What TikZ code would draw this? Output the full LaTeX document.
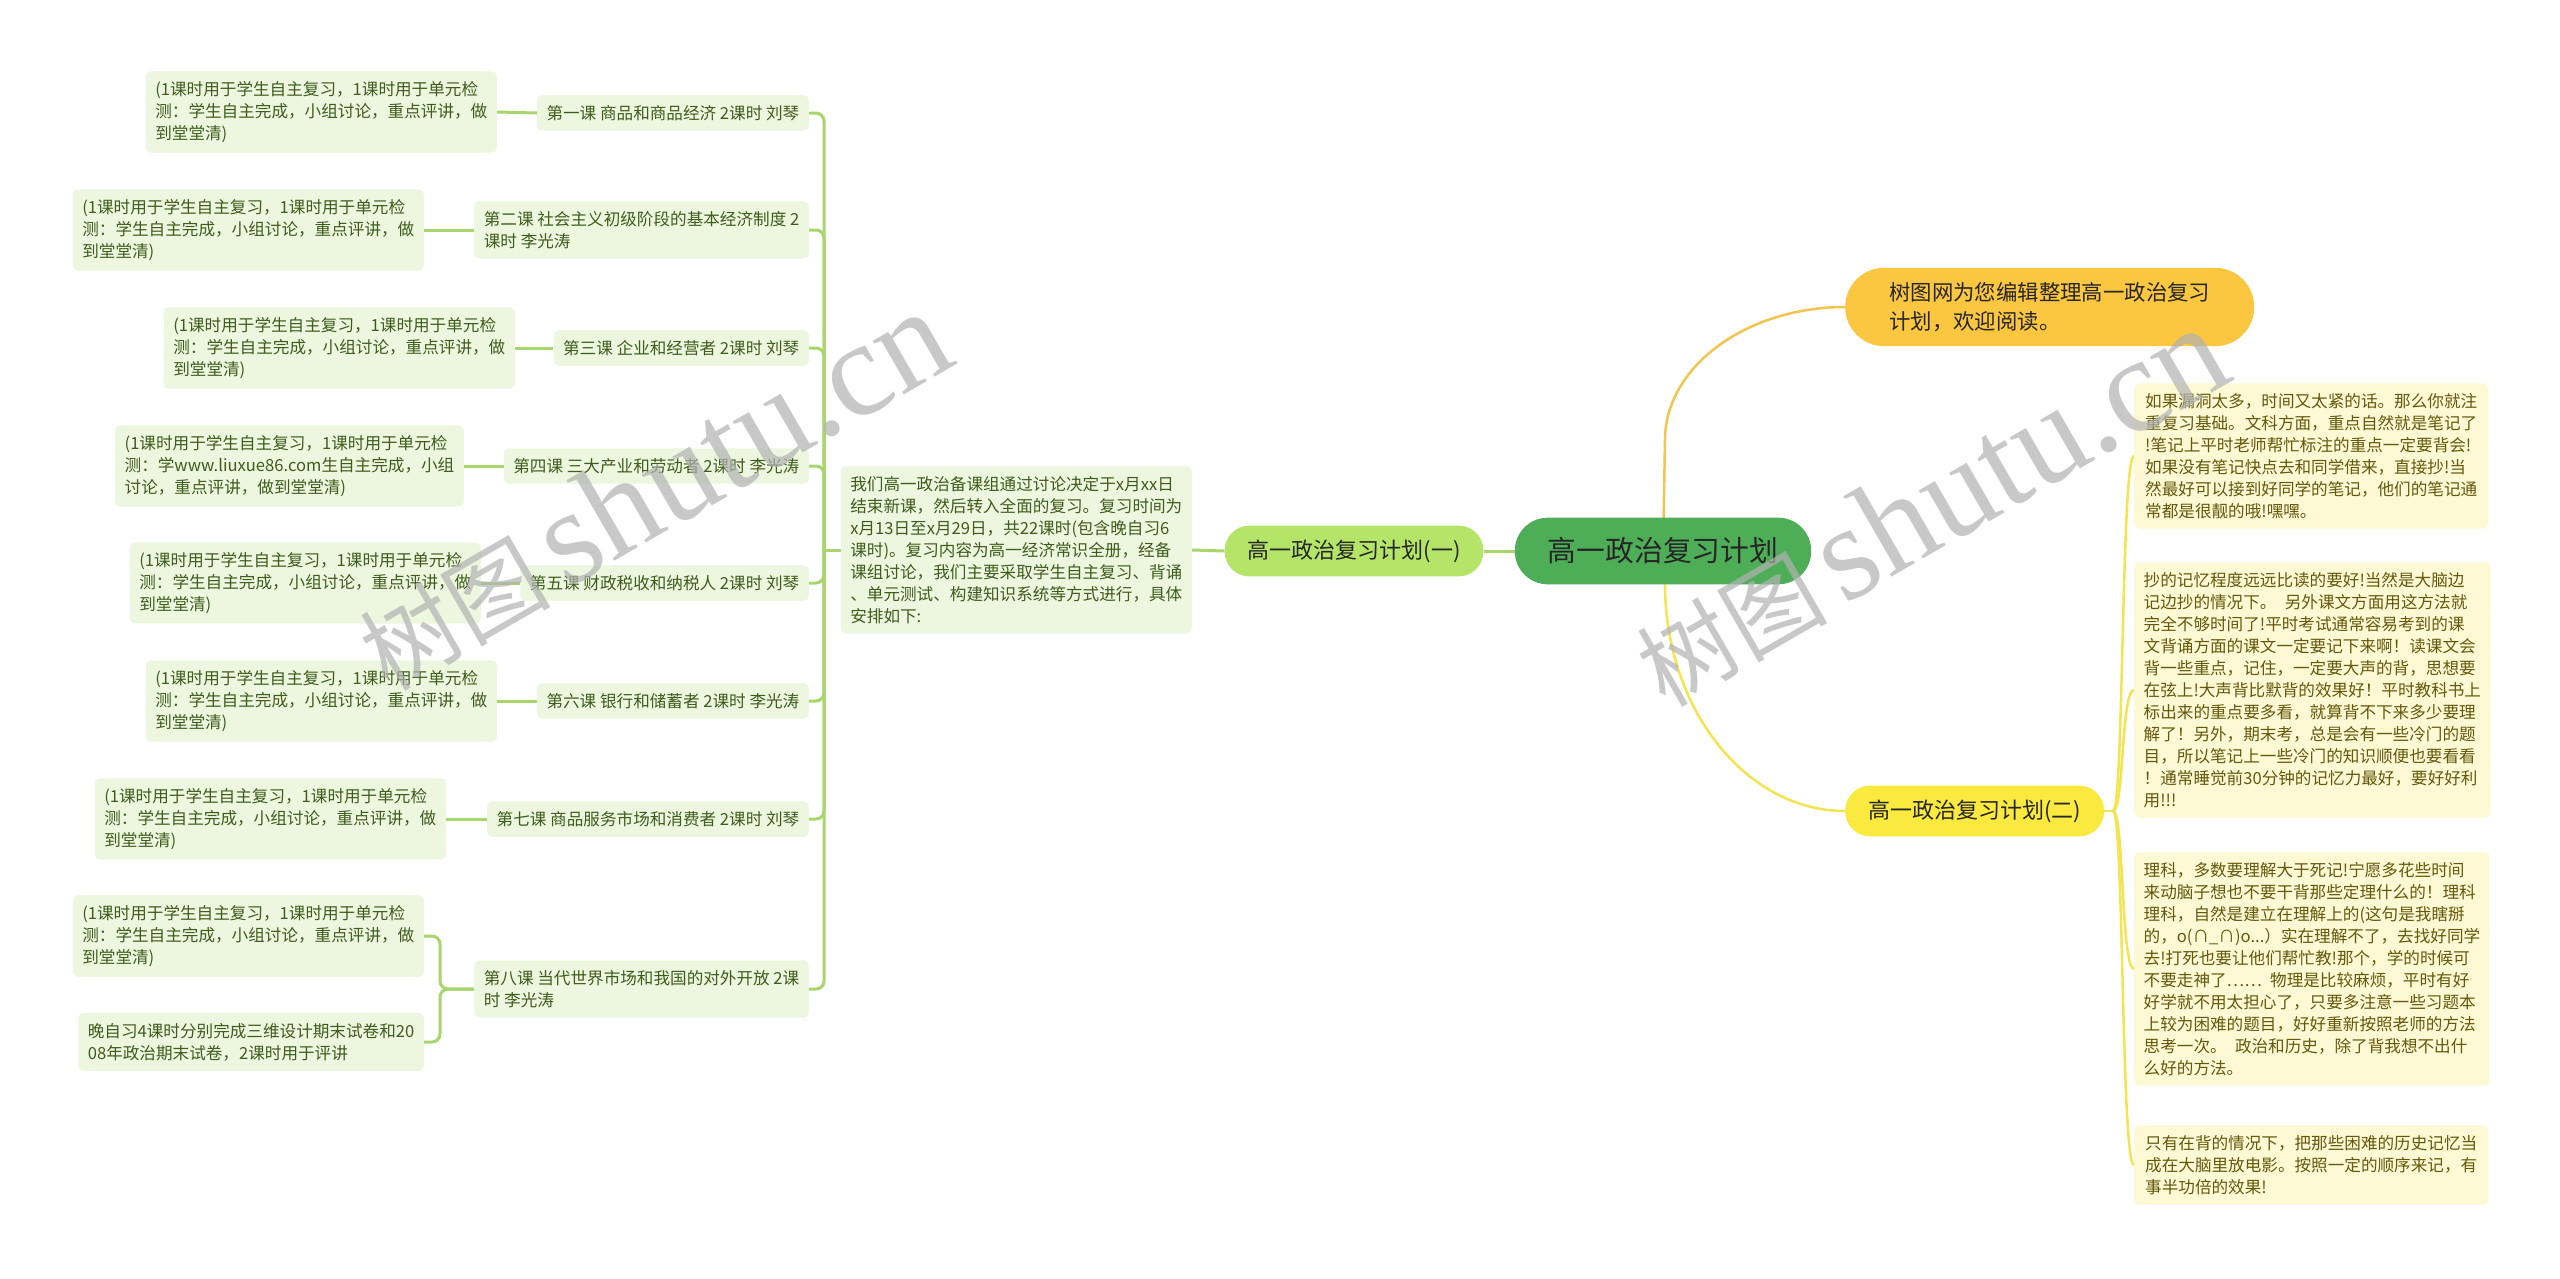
\documentclass[tikz,border=0pt]{standalone}
\usepackage{fontspec}
\newfontfamily\cjk{Noto Sans CJK SC}
\newfontfamily\wmlatin{Liberation Serif}
\usetikzlibrary{backgrounds}
\definecolor{cfill}{RGB}{78,174,88}
\definecolor{b1fill}{RGB}{180,228,104}
\definecolor{lgfill}{RGB}{237,247,224}
\definecolor{lgtext}{RGB}{62,92,28}
\definecolor{lgline}{RGB}{166,214,108}
\definecolor{topfill}{RGB}{251,198,64}
\definecolor{topline}{RGB}{243,196,80}
\definecolor{b2fill}{RGB}{250,233,62}
\definecolor{b2line}{RGB}{244,228,80}
\definecolor{yfill}{RGB}{253,249,212}
\definecolor{ytext}{RGB}{100,88,12}
\definecolor{darktext}{RGB}{38,38,38}
\tikzset{
  body/.style={font=\cjk\fontsize{16.6}{22}\selectfont, align=left, inner xsep=9.5pt, inner ysep=10pt},
  greenbox/.style={body, fill=lgfill, text=lgtext, rounded corners=5pt},
  yellowbox/.style={body, fill=yfill, text=ytext, rounded corners=6pt, minimum width=354pt},
  gline/.style={draw=lgline, line width=3pt},
  gspine/.style={draw=lgline, line width=3pt, rounded corners=8pt},
  yline/.style={draw=b2line, line width=2.5pt},
  watermark/.style={rotate=30, text=black!30, opacity=0.7}
}
\begin{document}
\begin{tikzpicture}[x=1pt,y=-1pt]
\useasboundingbox (0,0) rectangle (2560,1278);

% central and main branches
\node[fill=cfill, text=darktext, rounded corners=33pt, font=\cjk\fontsize{28.8}{34}\selectfont, inner xsep=33pt, inner ysep=20pt] (center) at (1663,551) {高一政治复习计划};
\node[fill=b1fill, text=darktext, rounded corners=25pt, font=\cjk\fontsize{22}{28}\selectfont, inner xsep=23pt, inner ysep=14pt] (b1) at (1354,551) {高一政治复习计划(一)};
\node[greenbox, anchor=east] (intro) at (1192,550) {我们高一政治备课组通过讨论决定于x月xx日\\结束新课，然后转入全面的复习。复习时间为\\x月13日至x月29日，共22课时(包含晚自习6\\课时)。复习内容为高一经济常识全册，经备\\课组讨论，我们主要采取学生自主复习、背诵\\、单元测试、构建知识系统等方式进行，具体\\安排如下:};

\node[fill=topfill, text=darktext, rounded corners=39pt, font=\cjk\fontsize{21.4}{29}\selectfont, align=left, inner xsep=44pt, inner ysep=14.5pt, anchor=west] (top) at (1845,307) {树图网为您编辑整理高一政治复习\\计划，欢迎阅读。};
\node[fill=b2fill, text=darktext, rounded corners=25pt, font=\cjk\fontsize{22}{28}\selectfont, inner xsep=23pt, inner ysep=14pt, anchor=west] (b2) at (1845,811) {高一政治复习计划(二)};

% lessons
\node[greenbox, anchor=east] (l1) at (809,113) {第一课 商品和商品经济 2课时 刘琴};
\node[greenbox, anchor=east] (l2) at (809,230) {第二课 社会主义初级阶段的基本经济制度 2\\课时 李光涛};
\node[greenbox, anchor=east] (l3) at (809,348) {第三课 企业和经营者 2课时 刘琴};
\node[greenbox, anchor=east] (l4) at (809,466) {第四课 三大产业和劳动者 2课时 李光涛};
\node[greenbox, anchor=east] (l5) at (809,583) {第五课 财政税收和纳税人 2课时 刘琴};
\node[greenbox, anchor=east] (l6) at (809,701) {第六课 银行和储蓄者 2课时 李光涛};
\node[greenbox, anchor=east] (l7) at (809,819) {第七课 商品服务市场和消费者 2课时 刘琴};
\node[greenbox, anchor=east] (l8) at (809,989) {第八课 当代世界市场和我国的对外开放 2课\\时 李光涛};

% details
\node[greenbox, anchor=east] (d1) at (497,112) {(1课时用于学生自主复习，1课时用于单元检\\测：学生自主完成，小组讨论，重点评讲，做\\到堂堂清)};
\node[greenbox, anchor=east] (d2) at (424,230) {(1课时用于学生自主复习，1课时用于单元检\\测：学生自主完成，小组讨论，重点评讲，做\\到堂堂清)};
\node[greenbox, anchor=east] (d3) at (515,348) {(1课时用于学生自主复习，1课时用于单元检\\测：学生自主完成，小组讨论，重点评讲，做\\到堂堂清)};
\node[greenbox, anchor=east] (d4) at (464,466) {(1课时用于学生自主复习，1课时用于单元检\\测：学www.liuxue86.com生自主完成，小组\\讨论，重点评讲，做到堂堂清)};
\node[greenbox, anchor=east] (d5) at (481,583) {(1课时用于学生自主复习，1课时用于单元检\\测：学生自主完成，小组讨论，重点评讲，做\\到堂堂清)};
\node[greenbox, anchor=east] (d6) at (497,701) {(1课时用于学生自主复习，1课时用于单元检\\测：学生自主完成，小组讨论，重点评讲，做\\到堂堂清)};
\node[greenbox, anchor=east] (d7) at (446,819) {(1课时用于学生自主复习，1课时用于单元检\\测：学生自主完成，小组讨论，重点评讲，做\\到堂堂清)};
\node[greenbox, anchor=east] (d8a) at (424,936) {(1课时用于学生自主复习，1课时用于单元检\\测：学生自主完成，小组讨论，重点评讲，做\\到堂堂清)};
\node[greenbox, anchor=east] (d8b) at (424,1042) {晚自习4课时分别完成三维设计期末试卷和20\\08年政治期末试卷，2课时用于评讲};

% right text boxes
\node[yellowbox, anchor=west] (r1) at (2134,456) {如果漏洞太多，时间又太紧的话。那么你就注\\重复习基础。文科方面，重点自然就是笔记了\\!笔记上平时老师帮忙标注的重点一定要背会!\\如果没有笔记快点去和同学借来，直接抄!当\\然最好可以接到好同学的笔记，他们的笔记通\\常都是很靓的哦!嘿嘿。};
\node[yellowbox, anchor=west] (r2) at (2134,690) {抄的记忆程度远远比读的要好!当然是大脑边\\记边抄的情况下。\enskip 另外课文方面用这方法就\\完全不够时间了!平时考试通常容易考到的课\\文背诵方面的课文一定要记下来啊！读课文会\\背一些重点，记住，一定要大声的背，思想要\\在弦上!大声背比默背的效果好！平时教科书上\\标出来的重点要多看，就算背不下来多少要理\\解了！另外，期末考，总是会有一些冷门的题\\目，所以笔记上一些冷门的知识顺便也要看看\\！通常睡觉前30分钟的记忆力最好，要好好利\\用!!!};
\node[yellowbox, anchor=west] (r3) at (2134,969) {理科，多数要理解大于死记!宁愿多花些时间\\来动脑子想也不要干背那些定理什么的！理科\\理科，自然是建立在理解上的(这句是我瞎掰\\的，o(∩\_∩)o...）实在理解不了，去找好同学\\去!打死也要让他们帮忙教!那个，学的时候可\\不要走神了……\enskip 物理是比较麻烦，平时有好\\好学就不用太担心了，只要多注意一些习题本\\上较为困难的题目，好好重新按照老师的方法\\思考一次。\enskip 政治和历史，除了背我想不出什\\么好的方法。};
\node[yellowbox, anchor=west] (r4) at (2134,1165) {只有在背的情况下，把那些困难的历史记忆当\\成在大脑里放电影。按照一定的顺序来记，有\\事半功倍的效果!};

\begin{pgfonlayer}{background}
  \fill[white] (0,0) rectangle (2560,1278);
  % center to branch 1, branch 1 to intro
  \draw[gline] (center.west) -- (b1.east);
  \draw[gline] (b1.west) -- (intro.east);
  \coordinate (sp) at (824,550);
  \draw[gline] (intro.west) -- (sp);
  \foreach \l in {l1,l2,l3,l4,l5,l6,l7,l8} {
    \draw[gspine] (sp) -- (sp |- \l.east) -- (\l.east);
  }
  % lessons to details
  \draw[gline] (l1.west) -- (d1.east);
  \draw[gline] (l2.west) -- (d2.east);
  \draw[gline] (l3.west) -- (d3.east);
  \draw[gline] (l4.west) -- (d4.east);
  \draw[gline] (l5.west) -- (d5.east);
  \draw[gline] (l6.west) -- (d6.east);
  \draw[gline] (l7.west) -- (d7.east);
  \coordinate (br8) at (440,989);
  \draw[gspine] (l8.west) -- (br8) -- (br8 |- d8a.east) -- (d8a.east);
  \draw[gspine] (l8.west) -- (br8) -- (br8 |- d8b.east) -- (d8b.east);
  % right side curves
  \draw[draw=topline, line width=2.5pt] (center.center) -- (1665,440) .. controls (1665,367) and (1746,307) .. (top.west);
  \draw[draw=b2line, line width=2.5pt] (center.center) -- (1665,584) .. controls (1665,709) and (1746,811) .. (b2.west);
  \coordinate (rb) at (2113,811);
  \coordinate (rc) at (2121,0);
  \draw[yline] (b2.east) -- (rb);
  \foreach \r in {r1,r2,r3,r4} {
    \draw[yline] (rb) .. controls (2124,811) and (rc |- \r.west) .. (\r.west);
  }
\end{pgfonlayer}

% watermarks
\node[watermark] (wm1) at (653,490) {\cjk\fontsize{95}{100}\selectfont 树图\,\wmlatin\fontsize{135}{140}\selectfont shutu.cn};
\node[watermark] (wm2) at (1930,506) {\cjk\fontsize{95}{100}\selectfont 树图\,\wmlatin\fontsize{135}{140}\selectfont shutu.cn};
\end{tikzpicture}
\end{document}
